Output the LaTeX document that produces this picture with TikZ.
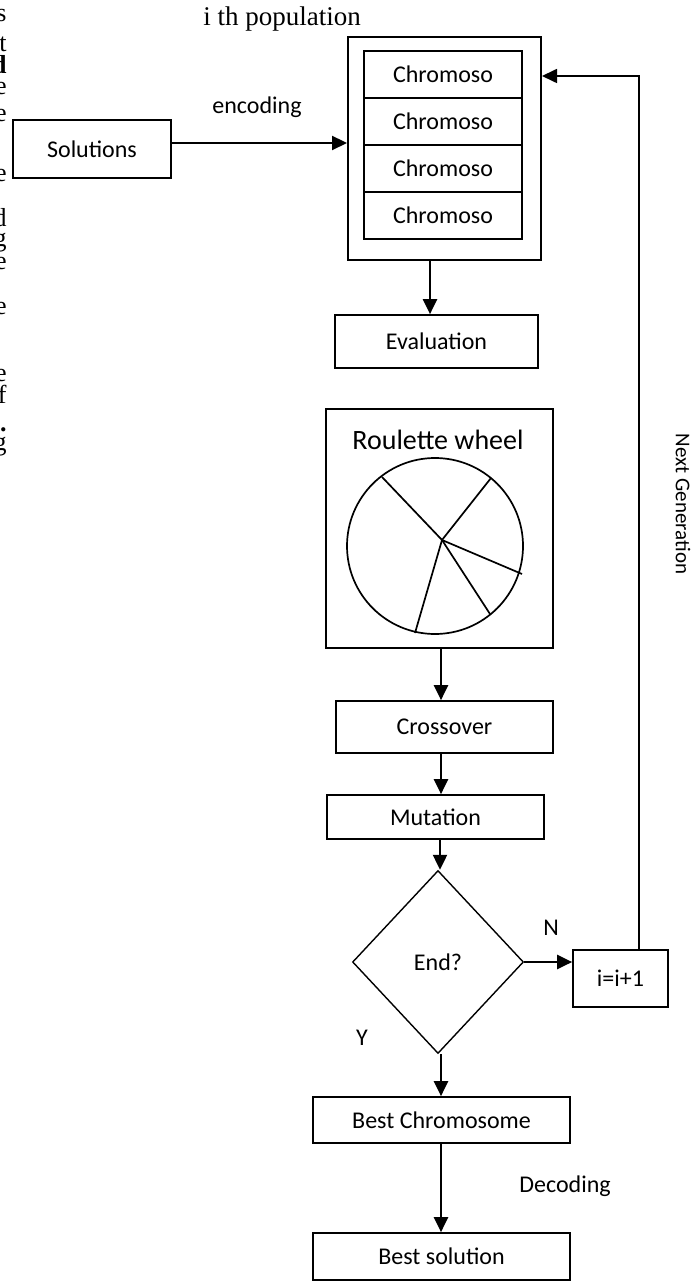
\documentclass[tikz,border=0pt]{standalone}
\usepackage{fontspec}
\setmainfont{Liberation Serif}
\newfontfamily\calf{Carlito}
\usetikzlibrary{arrows.meta,shapes.geometric}
\tikzset{
  box/.style={draw, line width=0.85pt, inner sep=0pt, font=\calf\fontsize{12}{14}\selectfont},
  lbl/.style={inner sep=0pt, font=\calf\fontsize{12}{14}\selectfont},
  arr/.style={line width=1.1pt, -{Triangle[length=7.5pt,width=7pt]}},
  stray/.style={anchor=base east, inner sep=0pt, font=\fontsize{13}{15}\selectfont}
}
\begin{document}
\begin{tikzpicture}[x=0.5pt, y=-0.5pt]
      \useasboundingbox (0,0) rectangle (698,1288);
      % cut-off text of the page column
      \foreach \c/\yy in {s/22, t/52, \textbf{d}/74, e/95, e/122, e/182, d/227, g/247, e/270, e/315, e/382, f/404, \textbf{.}/431, g/450}
        \node[stray] at (7,\yy) {\c};
      \node[inner sep=0pt, font=\fontsize{13.5}{16}\selectfont] (ipop) at (282,19) {i th population};
      \node[box, minimum width=79pt, minimum height=29pt] (sol) at (92,149) {Solutions};
      \node[box, line width=1pt, minimum width=96.5pt, minimum height=111.5pt] (pop) at (444.5,148.5) {};
      \node[box, minimum width=79pt, minimum height=23.5pt] (c1) at (443,74.5) {Chromoso};
      \node[box, minimum width=79pt, minimum height=23.5pt] (c2) at (443,121.5) {Chromoso};
      \node[box, minimum width=79pt, minimum height=23.5pt] (c3) at (443,168.5) {Chromoso};
      \node[box, minimum width=79pt, minimum height=23.5pt] (c4) at (443,215.5) {Chromoso};
      \node[box, minimum width=101.5pt, minimum height=26.5pt] (eval) at (436.5,341.5) {Evaluation};
      \node[box, minimum width=113.5pt, minimum height=119.5pt] (roul) at (439.5,528.5) {};
      \node[lbl, font=\calf\fontsize{14}{16}\selectfont] (rtxt) at (438,440) {Roulette wheel};
      \draw[line width=0.85pt] (435,546) circle [radius=88];
      \coordinate (hub) at (442,540);
      \foreach \p in {(382,477), (491,478), (522,574), (490,614), (415,633)}
        \draw[line width=0.85pt] (hub) -- \p;
      \node[box, minimum width=108.5pt, minimum height=26pt] (cross) at (444.5,727) {Crossover};
      \node[box, minimum width=108.5pt, minimum height=22pt] (mut) at (435.5,817) {Mutation};
      \node[box, shape=diamond, line width=0.7pt, minimum width=85.5pt, minimum height=91.5pt] (dia) at (438,962) {End?};
      \node[box, minimum width=47.5pt, minimum height=28.5pt] (inc) at (620.5,978.5) {i=i+1};
      \node[box, minimum width=128.5pt, minimum height=23pt] (bestc) at (441.5,1120) {Best Chromosome};
      \node[box, minimum width=128.5pt, minimum height=23.5pt] (bests) at (441.5,1256.5) {Best solution};
      \coordinate (back) at (639,76);
      % connectors
      \draw[arr] ([yshift=3pt]sol.east) -- ([yshift=3pt]sol.east -| pop.west);
      \draw[arr] (430,260 |- pop.south) -- (430,260 |- eval.north);
      \draw[arr] (roul.south -| 441,0) -- (cross.north -| 441,0);
      \draw[arr] (cross.south -| 441,0) -- (mut.north -| 441,0);
      \draw[arr] (mut.south -| 440,0) -- (dia.north -| 440,0);
      \draw[arr] (dia.east) -- (dia.east -| inc.west);
      \draw[arr, line width=0.85pt] (inc.north -| back) -- (back) -- (back -| pop.east);
      \draw[arr] (dia.south -| 441,0) -- (bestc.north -| 441,0);
      \draw[arr] (bestc.south -| 441,0) -- (bests.north -| 441,0);
      % labels
      \node[lbl] (enc) at (257,107) {encoding};
      \node[lbl] (no) at (551,928) {N};
      \node[lbl] (yes) at (362,1038) {Y};
      \node[lbl] (dec) at (565,1186) {Decoding};
      \node[lbl, rotate=-90, font=\calf\fontsize{10.5}{12}\selectfont] (nextg) at (683,504) {Next Generation};
\end{tikzpicture}
\end{document}
